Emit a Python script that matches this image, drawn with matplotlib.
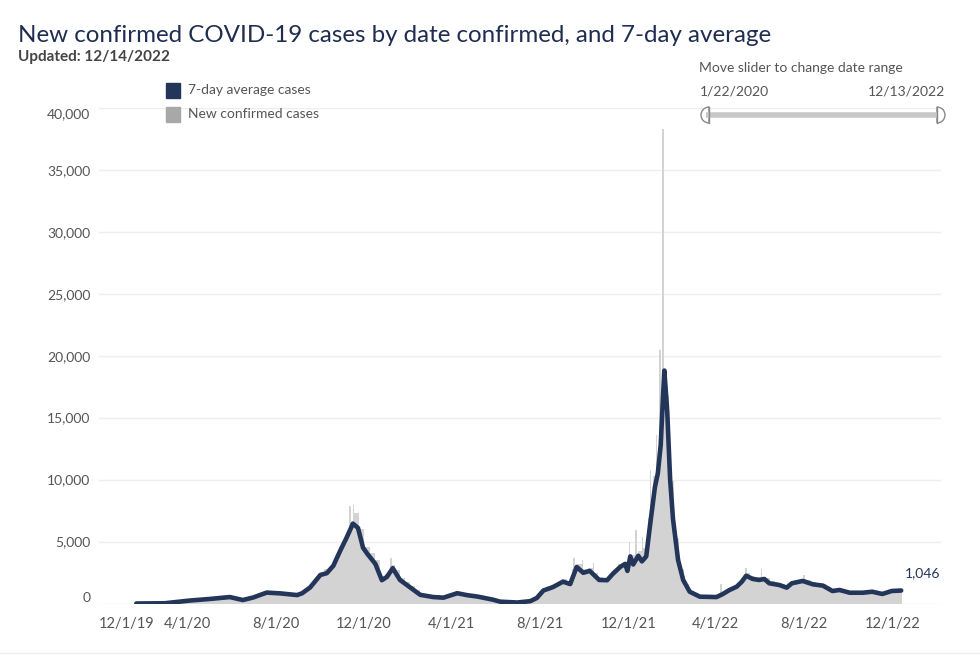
import numpy as np
import matplotlib
matplotlib.use("Agg")
import matplotlib.pyplot as plt
import matplotlib.patches as mpatches
import pandas as pd

# 7-day average at its turning points
avg_dates = ["2020-01-22", "2020-03-01", "2020-03-22", "2020-04-05", "2020-05-03", "2020-05-30",
             "2020-06-17", "2020-07-01", "2020-07-20", "2020-08-07", "2020-08-31", "2020-09-07",
             "2020-09-18", "2020-10-02", "2020-10-11", "2020-10-20", "2020-10-29", "2020-11-08",
             "2020-11-16", "2020-11-23", "2020-11-30", "2020-12-06", "2020-12-17", "2020-12-26",
             "2021-01-02", "2021-01-10", "2021-01-20", "2021-02-03", "2021-02-17", "2021-03-07",
             "2021-03-21", "2021-04-09", "2021-04-23", "2021-05-07", "2021-05-29", "2021-06-07",
             "2021-07-01", "2021-07-19", "2021-07-28", "2021-08-06", "2021-08-19", "2021-09-02",
             "2021-09-12", "2021-09-21", "2021-09-30", "2021-10-09", "2021-10-22", "2021-11-02",
             "2021-11-10", "2021-11-20", "2021-11-27", "2021-11-30", "2021-12-04", "2021-12-08",
             "2021-12-15", "2021-12-20", "2021-12-26", "2021-12-31", "2022-01-07", "2022-01-11",
             "2022-01-15", "2022-01-18", "2022-01-20", "2022-01-24", "2022-01-28", "2022-02-01",
             "2022-02-08", "2022-02-15", "2022-02-24", "2022-03-10", "2022-04-02", "2022-04-10",
             "2022-04-20", "2022-04-30", "2022-05-07", "2022-05-13", "2022-05-22", "2022-05-31",
             "2022-06-07", "2022-06-14", "2022-06-28", "2022-07-08", "2022-07-15", "2022-07-30",
             "2022-08-13", "2022-08-27", "2022-09-09", "2022-09-19", "2022-10-03", "2022-10-21",
             "2022-11-03", "2022-11-17", "2022-11-30", "2022-12-13"]
avg_cases = [0, 20, 150, 240, 370, 520,
             280, 480, 880, 820, 680, 830,
             1300, 2300, 2450, 3050, 4200, 5400,
             6450, 6100, 4500, 4000, 3200, 1880,
             2150, 2850, 1900, 1300, 700, 520,
             470, 830, 670, 560, 300, 150,
             80, 190, 450, 1050, 1320, 1760,
             1570, 2950, 2480, 2630, 1900, 1880,
             2400, 2950, 3200, 2630, 3800, 3150,
             3850, 3400, 3800, 6200, 9400, 10500,
             12800, 16500, 18800, 15500, 10000, 6800,
             3500, 1900, 950, 550, 520, 740,
             1090, 1360, 1760, 2240, 1980, 1900,
             1980, 1630, 1490, 1280, 1630, 1820,
             1550, 1440, 1010, 1090, 870, 870,
             950, 770, 1010, 1046]

# daily new cases, one typical bar height per week
bar_start = "2020-01-22"
bar_cases = [0, 0, 0, 0, 0, 0, 10, 40, 110, 190,
             250, 280, 300, 350, 390, 410, 430, 480, 560, 500,
             370, 310, 410, 540, 700, 890, 960, 930, 900, 860,
             820, 760, 780, 980, 1350, 1950, 2500, 2750, 2950, 3500,
             4550, 5400, 6500, 7300, 6000, 4600, 4100, 3500, 2250, 2400,
             3100, 2700, 2050, 1700, 1400, 1080, 800, 640, 560, 540,
             510, 560, 760, 910, 820, 730, 660, 600, 510, 420,
             330, 210, 140, 105, 95, 95, 120, 180, 320, 650,
             1200, 1350, 1520, 1750, 1950, 1800, 2750, 3150, 2750, 2850,
             2450, 2100, 2000, 2100, 2700, 3150, 3350, 3800, 3900, 4200,
             4500, 6900,
             10300, 14000, 16800, 9900, 5300, 2800, 1600, 1000, 690, 580,
             530, 550, 600, 760, 980, 1250, 1520, 1900, 2450, 2250,
             2100, 2100, 2050, 1780, 1670, 1600, 1450, 1720, 1880, 1980,
             1880, 1720, 1600, 1550, 1340, 1120, 1180, 1070, 960, 940,
             930, 940, 960, 1010, 930, 830, 900, 1110, 1150]

# single days that stand out above the rest
spike_dates = ["2020-11-12", "2020-11-17", "2021-01-08", "2021-09-17", "2021-09-29",
               "2021-10-14", "2021-12-03", "2021-12-12", "2021-12-21", "2022-01-01",
               "2022-01-09", "2022-01-14", "2022-01-18", "2022-04-08", "2022-05-13",
               "2022-06-03", "2022-08-01"]
spike_cases = [7900, 7950, 3700, 3650, 3500,
               3300, 5000, 5900, 5350, 10800,
               13600, 20500, 38300, 1550, 2900,
               2800, 2300]

y_ticks = [0, 5000, 10000, 15000, 20000, 25000, 30000, 35000, 40000]
x_tick_dates = ["2019-12-01", "2020-04-01", "2020-08-01", "2020-12-01", "2021-04-01",
                "2021-08-01", "2021-12-01", "2022-04-01", "2022-08-01", "2022-12-01"]
x_tick_labels = ["12/1/19", "4/1/20", "8/1/20", "12/1/20", "4/1/21",
                 "8/1/21", "12/1/21", "4/1/22", "8/1/22", "12/1/22"]

navy = "#24355a"
gray = "#d3d3d3"
txt = "#555555"
plt.rcParams['font.family'] = ['Lato', 'DejaVu Sans']

fig = plt.figure(figsize=(9.8, 6.55), dpi=100)
W, H = 980, 655
ax = fig.add_axes([98.7 / W, (H - 603.5) / H, (941 - 98.7) / W, (603.5 - 107.9) / H])

bar_x = pd.date_range(bar_start, periods=len(bar_cases), freq="7D")
ax.bar(bar_x, bar_cases, width=7, align="edge", color=gray, linewidth=0, zorder=2)
ax.bar(pd.to_datetime(spike_dates), spike_cases, width=2.2, color=gray, linewidth=0, zorder=2)
ax.plot(pd.to_datetime(avg_dates), avg_cases, color=navy, lw=3.3, solid_capstyle="round",
        solid_joinstyle="round", zorder=3)

last_x = pd.to_datetime(avg_dates[-1])
ax.annotate(f"{avg_cases[-1]:,}", (last_x, avg_cases[-1]), xytext=(3, 8),
            textcoords="offset points", color=navy, fontsize=10, va="bottom", ha="left")

ax.set_ylim(0, 40000)
ax.set_xlim(pd.Timestamp("2019-12-01"), pd.Timestamp("2023-02-06"))
ax.set_yticks(y_ticks)
ax.set_yticklabels([f"{v:,}" for v in y_ticks])
ax.set_xticks(pd.to_datetime(x_tick_dates))
ax.set_xticklabels(x_tick_labels)
ax.tick_params(axis="y", length=0, pad=6, labelsize=10, labelcolor=txt)
ax.tick_params(axis="x", length=0, pad=10, labelsize=10.5, labelcolor=txt)
ax.get_xticklabels()[0].set_ha("left")
ax.get_yticklabels()[0].set_va("bottom")
ax.get_yticklabels()[-1].set_va("top")
ax.grid(axis="y", color="#eeeeee", lw=1, zorder=0)
ax.set_axisbelow(True)
for s in ax.spines.values():
    s.set_visible(False)

# overlay in pixel units for the titles, legend and slider
ov = fig.add_axes([0, 0, 1, 1])
ov.set_xlim(0, W)
ov.set_ylim(H, 0)
ov.axis("off")
ov.patch.set_alpha(0)

ov.text(18, 35, "New confirmed COVID-19 cases by date confirmed, and 7-day average",
        fontsize=17.4, color="#1f2d50", va="center", ha="left")
ov.text(18, 57, "Updated: 12/14/2022", fontsize=11, color="#444444", va="center",
        ha="left", fontweight="bold")

ov.add_patch(mpatches.Rectangle((166, 83), 14, 15, color=navy))
ov.add_patch(mpatches.Rectangle((166, 107), 14, 15, color="#a8a8a8"))
ov.text(188, 90, "7-day average cases", fontsize=10, color=txt, va="center")
ov.text(188, 114, "New confirmed cases", fontsize=10, color=txt, va="center")

ov.text(801, 68, "Move slider to change date range", fontsize=10, color=txt, ha="center", va="center")
ov.text(700, 91, "1/22/2020", fontsize=10, color=txt, ha="left", va="center")
ov.text(945, 91, "12/13/2022", fontsize=10, color=txt, ha="right", va="center")
ov.plot([706, 938], [115, 115], color="#c8c8c8", lw=4, solid_capstyle="butt")
ov.add_patch(mpatches.Wedge((709, 115), 8, 90, 270, facecolor="white", edgecolor="#888888", lw=1))
ov.plot([709, 709], [107, 123], color="#888888", lw=1)
ov.add_patch(mpatches.Wedge((937, 115), 8, -90, 90, facecolor="white", edgecolor="#888888", lw=1))
ov.plot([937, 937], [107, 123], color="#888888", lw=1)
ov.plot([0, W], [653, 653], color="#eeeeee", lw=1)

fig.savefig("out.png", dpi=100)
